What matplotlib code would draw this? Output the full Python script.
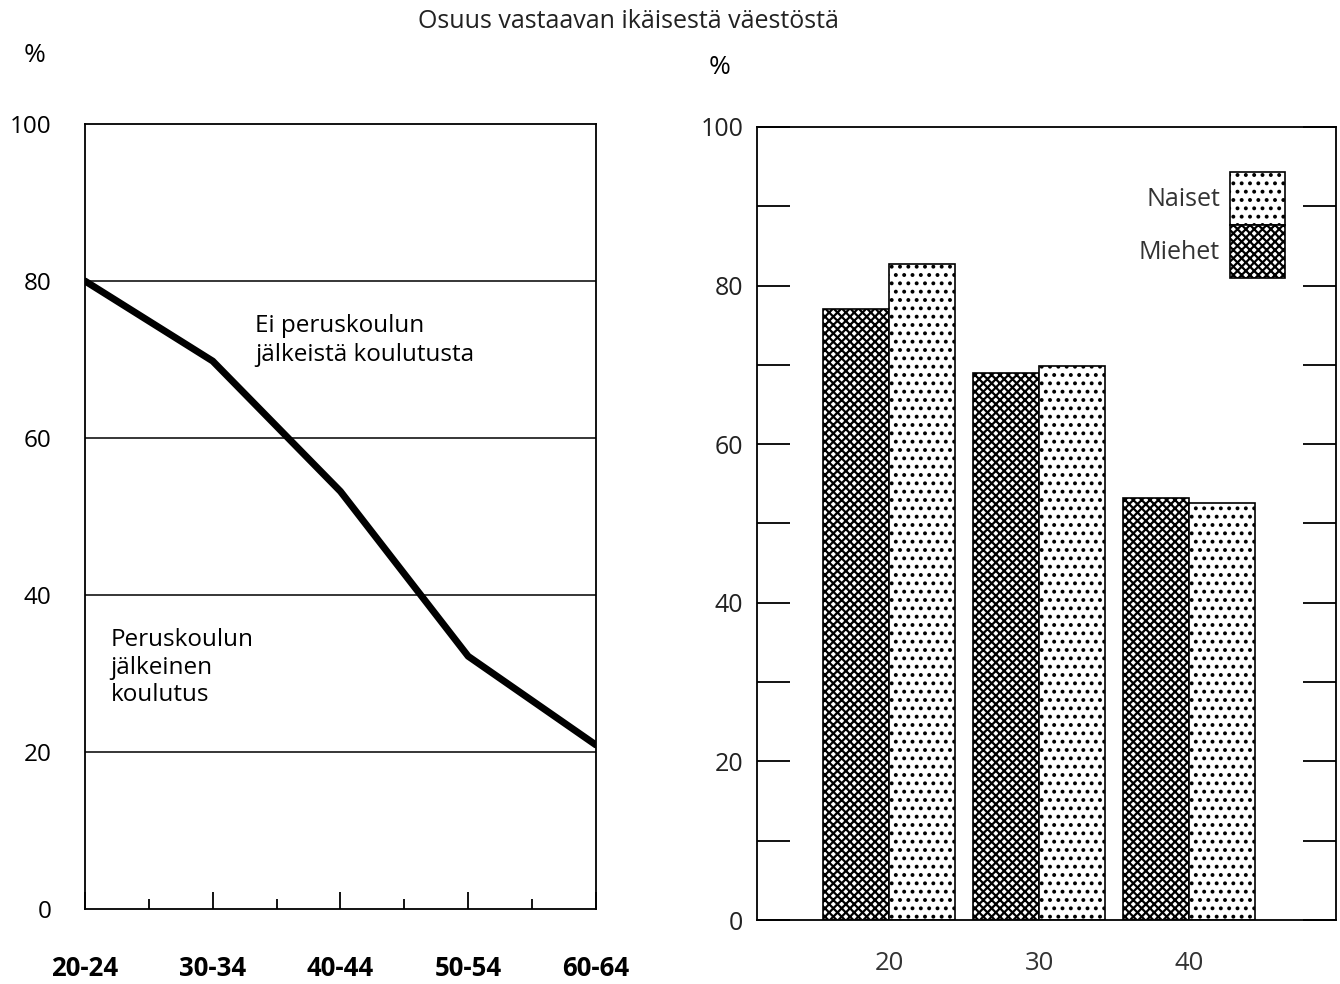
import matplotlib.pyplot as plt
import numpy as np

plt.rcParams['font.family'] = ['Open Sans', 'DejaVu Sans']
plt.rcParams['hatch.linewidth'] = 1.6

# left panel: share without post-basic education by age group
age_groups = ['20-24', '30-34', '40-44', '50-54', '60-64']
no_post_basic = [80.0, 69.8, 53.2, 32.2, 20.9]

# right panel: bars by age
bar_ages = [20, 30, 40]
men = [77.0, 69.0, 53.2]
women = [82.7, 69.9, 52.6]

fig = plt.figure(figsize=(13.4, 9.84), dpi=100)

# ---- left panel
ax1 = fig.add_axes([0.0634, 0.0762, 0.3813, 0.7978])
x = np.arange(len(age_groups))
ax1.plot(x, no_post_basic, color='black', lw=5, solid_capstyle='round',
         solid_joinstyle='round', zorder=3)
ax1.set_xlim(0, 4)
ax1.set_ylim(0, 100)
for g in [20, 40, 60, 80]:
    ax1.axhline(g, color='black', lw=1.1, zorder=1)
ax1.set_yticks([0, 20, 40, 60, 80, 100])
ax1.tick_params(axis='y', length=0, pad=24, labelsize=17.5)
ax1.set_xticks(x)
ax1.set_xticklabels(age_groups, fontweight='bold')
ax1.set_xticks(x[:-1] + 0.5, minor=True)
ax1.tick_params(axis='x', which='major', direction='in', length=12, width=1.3,
                pad=33, labelsize=18.5)
ax1.tick_params(axis='x', which='minor', direction='in', length=7, width=1.3)
for s in ax1.spines.values():
    s.set_linewidth(1.3)
ax1.text(1.33, 75.8, 'Ei peruskoulun\njälkeistä koulutusta', fontsize=17.5,
         va='top', ha='left', linespacing=1.3)
ax1.text(0.2, 35.8, 'Peruskoulun\njälkeinen\nkoulutus', fontsize=17.5,
         va='top', ha='left', linespacing=1.2)

# ---- right panel
ax2 = fig.add_axes([0.565, 0.065, 0.432, 0.806])
w = 4.4
b_men = ax2.bar(np.array(bar_ages) - w / 2, men, width=w, color='white',
                edgecolor='black', hatch='xxxx', lw=1.2, label='Miehet')
b_women = ax2.bar(np.array(bar_ages) + w / 2, women, width=w, color='white',
                  edgecolor='black', hatch='..', lw=1.2, label='Naiset')
ax2.set_xlim(11.2, 49.8)
ax2.set_ylim(0, 100)
ax2.set_xticks(bar_ages)
ax2.tick_params(axis='x', length=0, pad=22, labelsize=18.5, labelcolor='#333333')
ax2.set_yticks([0, 20, 40, 60, 80, 100])
ax2.set_yticks([10, 30, 50, 70, 90], minor=True)
ax2.tick_params(axis='y', which='both', direction='in', length=24, width=1.3,
                left=True, right=True, pad=10, labelsize=18, labelcolor='#222222')
for s in ax2.spines.values():
    s.set_linewidth(1.3)
leg = ax2.legend(handles=[b_women, b_men], labels=['Naiset', 'Miehet'],
                 loc='upper right', bbox_to_anchor=(0.912, 0.943),
                 frameon=False, markerfirst=False, borderpad=0,
                 borderaxespad=0, labelspacing=0, handlelength=2.2,
                 handleheight=2.88, handletextpad=0.4, fontsize=18)
for t in leg.get_texts():
    t.set_color('#333333')

fig.text(0.469, 0.978, 'Osuus vastaavan ikäisestä väestöstä', fontsize=18,
         ha='center', va='center', color='#222222')
fig.text(0.026, 0.944, '%', fontsize=19, ha='center', va='center')
fig.text(0.537, 0.931, '%', fontsize=19, ha='center', va='center')

fig.savefig('out.png', dpi=100)
